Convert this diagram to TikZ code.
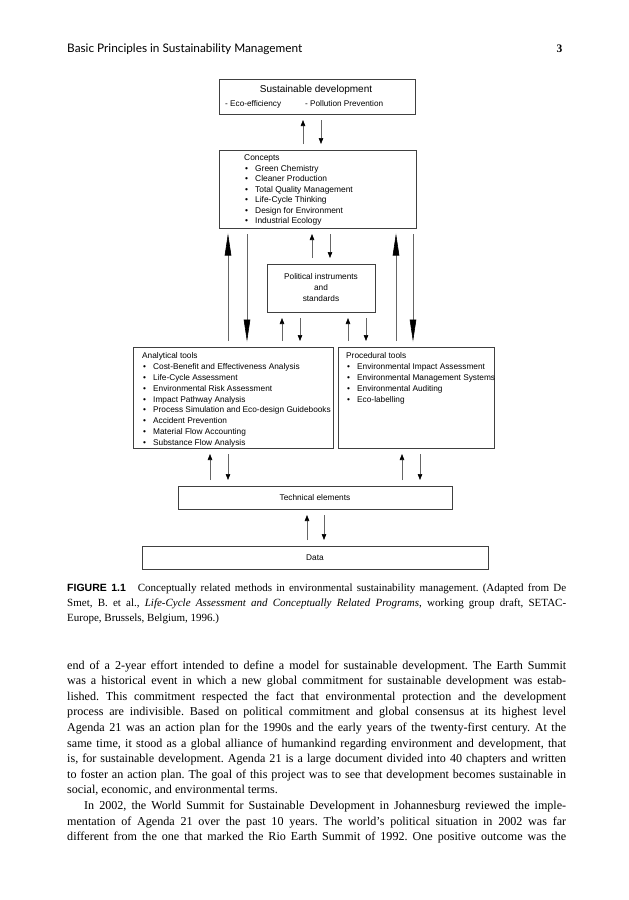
\documentclass[tikz,border=0pt]{standalone}
\usepackage{fontspec}
\setmainfont{Liberation Serif}
\newfontfamily\diagfont{Liberation Sans}
\newfontfamily\headfont{Lato}
\usetikzlibrary{arrows.meta}
\frenchspacing

\newcommand{\itm}[1]{\hspace*{1pt}\makebox[10pt][l]{\textbullet}#1}
\newcommand{\fullline}[1]{\makebox[499pt][s]{#1}}

\begin{document}
\begin{tikzpicture}[x=1pt, y=-1pt,
  box/.style={draw=black!75, line width=0.7pt, inner sep=0pt, outer sep=0pt, anchor=north west},
  lbl/.style={font=\diagfont\fontsize{8.3}{10.6}\selectfont, inner sep=0pt, align=left, anchor=north west},
  arr/.style={draw=black!60, line width=0.6pt, -{Triangle[length=6pt,width=4.5pt,color=black]}, shorten <=6pt, shorten >=6pt},
  bigarr/.style={draw=black!60, line width=0.6pt, -{Triangle[length=22pt,width=6.5pt,color=black]}, shorten <=6pt, shorten >=5.5pt},
  txt/.style={inner sep=0pt, anchor=base west}]
  \fill[white] (0,0) rectangle (629,900);
  \useasboundingbox (0,0) rectangle (629,900);

  % Running head
  \node[txt, font=\headfont\fontsize{11.8}{13}\selectfont] (head) at (67,52.5) {Basic Principles in Sustainability Management};
  \node[inner sep=0pt, anchor=base east, font=\bfseries\fontsize{11.5}{13}\selectfont] (pageno) at (562.5,52.5) {3};

  % Boxes
  \node[box, minimum width=196pt, minimum height=35pt] (sd) at (219,79) {};
  \node[box, minimum width=197pt, minimum height=78pt] (concepts) at (219,150) {};
  \node[box, minimum width=108pt, minimum height=48pt] (political) at (267,264) {};
  \node[box, minimum width=200pt, minimum height=101pt] (analytical) at (133,347) {};
  \node[box, minimum width=156pt, minimum height=101pt] (procedural) at (338,347) {};
  \node[box, minimum width=274pt, minimum height=23pt] (technical) at (178,486) {};
  \node[box, minimum width=346pt, minimum height=23pt] (data) at (142,546) {};

  % Box texts
  \node[inner sep=0pt, anchor=base, font=\diagfont\fontsize{10}{12}\selectfont] (sdtitle) at (316,92.5) {Sustainable development};
  \node[txt, font=\diagfont\fontsize{8.2}{10}\selectfont] (eco) at (225,106) {- Eco-efficiency};
  \node[txt, font=\diagfont\fontsize{8.2}{10}\selectfont] (pollution) at (305,106) {- Pollution Prevention};

  \node[lbl, font=\diagfont\fontsize{8.4}{10.45}\selectfont] (conceptlist) at (244,154.7) {Concepts\\ \itm{Green Chemistry}\\ \itm{Cleaner Production}\\
    \itm{Total Quality Management}\\ \itm{Life-Cycle Thinking}\\ \itm{Design for Environment}\\ \itm{Industrial Ecology}};

  \node[lbl, align=center, anchor=north, font=\diagfont\fontsize{8.3}{10.7}\selectfont] (politicallabel) at (321,273.7) {Political instruments\\ and\\ standards};

  \node[lbl, font=\diagfont\fontsize{8.3}{10.85}\selectfont] (analyticallist) at (142,352.4) {Analytical tools\\
    \itm{Cost-Benefit and Effectiveness Analysis}\\ \itm{Life-Cycle Assessment}\\ \itm{Environmental Risk Assessment}\\
    \itm{Impact Pathway Analysis}\\ \itm{Process Simulation and Eco-design Guidebooks}\\ \itm{Accident Prevention}\\
    \itm{Material Flow Accounting}\\ \itm{Substance Flow Analysis}};

  \node[lbl, font=\diagfont\fontsize{8.3}{10.85}\selectfont] (procedurallist) at (346,352.4) {Procedural tools\\
    \itm{Environmental Impact Assessment}\\ \itm{Environmental Management Systems}\\
    \itm{Environmental Auditing}\\ \itm{Eco-labelling}};

  \node[inner sep=0pt, anchor=base, font=\diagfont\fontsize{8.3}{10}\selectfont] (technicallabel) at (315,500.5) {Technical elements};
  \node[inner sep=0pt, anchor=base, font=\diagfont\fontsize{8.3}{10}\selectfont] (datalabel) at (315,560.5) {Data};

  % Arrows
  \draw[arr] (concepts.north -| 303,0) -- (sd.south -| 303,0);
  \draw[arr] (sd.south -| 321,0) -- (concepts.north -| 321,0);

  \draw[arr] (political.north -| 312,0) -- (concepts.south -| 312,0);
  \draw[arr] (concepts.south -| 330,0) -- (political.north -| 330,0);

  \draw[bigarr] (analytical.north -| 228,0) -- (concepts.south -| 228,0);
  \draw[bigarr] (concepts.south -| 247,0) -- (analytical.north -| 247,0);
  \draw[bigarr] (procedural.north -| 396,0) -- (concepts.south -| 396,0);
  \draw[bigarr] (concepts.south -| 413,0) -- (procedural.north -| 413,0);

  \draw[arr] (analytical.north -| 282,0) -- (political.south -| 282,0);
  \draw[arr] (political.south -| 300,0) -- (analytical.north -| 300,0);
  \draw[arr] (procedural.north -| 348,0) -- (political.south -| 348,0);
  \draw[arr] (political.south -| 366,0) -- (procedural.north -| 366,0);

  \draw[arr] (technical.north -| 210,0) -- (analytical.south -| 210,0);
  \draw[arr] (analytical.south -| 228,0) -- (technical.north -| 228,0);
  \draw[arr] (technical.north -| 402,0) -- (procedural.south -| 402,0);
  \draw[arr] (procedural.south -| 420,0) -- (technical.north -| 420,0);

  \draw[arr] (data.north -| 307,0) -- (technical.south -| 307,0);
  \draw[arr] (technical.south -| 324,0) -- (data.north -| 324,0);

  % Caption
  \node[txt, font=\fontsize{11}{14}\selectfont] (cap1) at (67,591) {\fullline{{\diagfont\bfseries\fontsize{10.5}{14}\selectfont FIGURE 1.1}\hspace{12pt}Conceptually related methods in environmental sustainability management. (Adapted from De}};
  \node[txt, font=\fontsize{11}{14}\selectfont] (cap2) at (67,606) {\fullline{Smet, B. et al., \textit{Life-Cycle Assessment and Conceptually Related Programs}, working group draft, SETAC-}};
  \node[txt, font=\fontsize{11}{14}\selectfont] (cap3) at (67,621) {Europe, Brussels, Belgium, 1996.)};

  % Body text
  \node[txt, font=\fontsize{12.1}{15.6}\selectfont] (b1) at (67,669) {\fullline{end of a 2-year effort intended to define a model for sustainable development. The Earth Summit}};
  \node[txt, font=\fontsize{12.1}{15.6}\selectfont] (b2) at (67,684.6) {\fullline{was a historical event in which a new global commitment for sustainable development was estab-}};
  \node[txt, font=\fontsize{12.1}{15.6}\selectfont] (b3) at (67,700.2) {\fullline{lished. This commitment respected the fact that environmental protection and the development}};
  \node[txt, font=\fontsize{12.1}{15.6}\selectfont] (b4) at (67,715.8) {\fullline{process are indivisible. Based on political commitment and global consensus at its highest level}};
  \node[txt, font=\fontsize{12.1}{15.6}\selectfont] (b5) at (67,731.4) {\fullline{Agenda 21 was an action plan for the 1990s and the early years of the twenty-first century. At the}};
  \node[txt, font=\fontsize{12.1}{15.6}\selectfont] (b6) at (67,747) {\fullline{same time, it stood as a global alliance of humankind regarding environment and development, that}};
  \node[txt, font=\fontsize{12.1}{15.6}\selectfont] (b7) at (67,762.6) {\fullline{is, for sustainable development. Agenda 21 is a large document divided into 40 chapters and written}};
  \node[txt, font=\fontsize{12.1}{15.6}\selectfont] (b8) at (67,778.2) {\fullline{to foster an action plan. The goal of this project was to see that development becomes sustainable in}};
  \node[txt, font=\fontsize{12.1}{15.6}\selectfont] (b9) at (67,793.8) {social, economic, and environmental terms.};
  \node[txt, font=\fontsize{12.1}{15.6}\selectfont] (b10) at (67,809.4) {\fullline{\hspace*{17pt}In 2002, the World Summit for Sustainable Development in Johannesburg reviewed the imple-}};
  \node[txt, font=\fontsize{12.1}{15.6}\selectfont] (b11) at (67,825) {\fullline{mentation of Agenda 21 over the past 10 years. The world's political situation in 2002 was far}};
  \node[txt, font=\fontsize{12.1}{15.6}\selectfont] (b12) at (67,840.6) {\fullline{different from the one that marked the Rio Earth Summit of 1992. One positive outcome was the}};
\end{tikzpicture}
\end{document}
